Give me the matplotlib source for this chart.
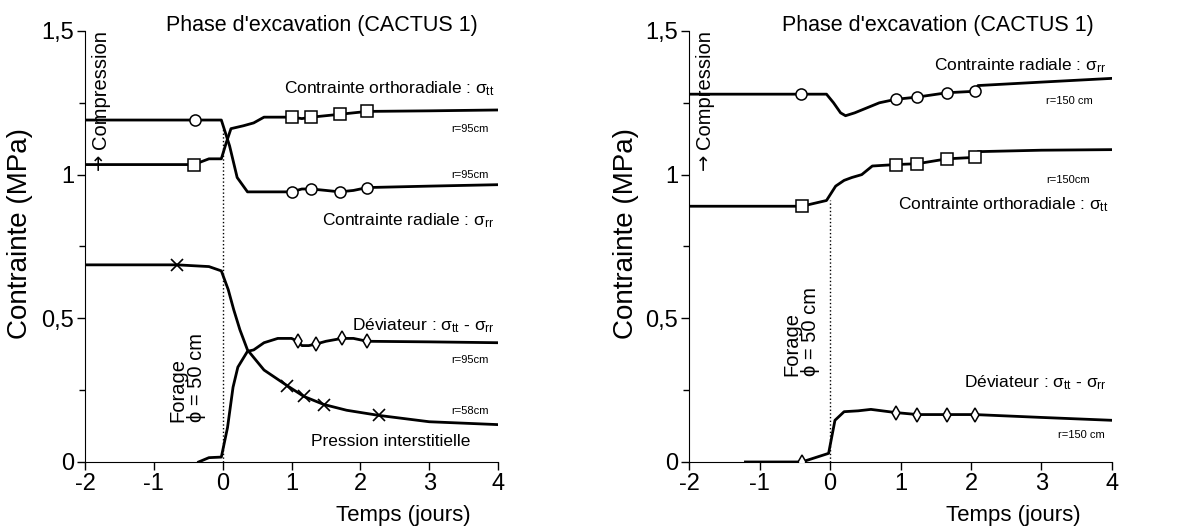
import matplotlib
matplotlib.use('Agg')
import matplotlib.pyplot as plt

plt.rcParams['font.family'] = ['Liberation Sans', 'DejaVu Sans']
plt.rcParams['mathtext.fontset'] = 'custom'
plt.rcParams['mathtext.rm'] = 'Liberation Sans'
plt.rcParams['mathtext.it'] = 'Liberation Sans'

# ---- excavation, r = 95 cm / 58 cm (left) ----
l_rad_x = [-2, -0.4, -0.02, 0.1, 0.21, 0.36, 0.6, 1.0, 1.15, 1.29, 1.5, 1.7, 1.9, 2.1, 3, 4]
l_rad_y = [1.19, 1.19, 1.19, 1.1, 0.99, 0.94, 0.94, 0.94, 0.95, 0.95, 0.945, 0.94, 0.945, 0.955, 0.96, 0.965]
l_rad_mx = [-0.4, 1.0, 1.29, 1.7, 2.1]
l_rad_my = [1.19, 0.94, 0.95, 0.94, 0.955]

l_ort_x = [-2, -0.42, -0.2, -0.02, 0.05, 0.12, 0.3, 0.45, 0.6, 1.0, 1.15, 1.29, 1.7, 2.1, 3, 4]
l_ort_y = [1.035, 1.035, 1.055, 1.055, 1.11, 1.16, 1.17, 1.18, 1.2, 1.2, 1.195, 1.2, 1.21, 1.22, 1.222, 1.225]
l_ort_mx = [-0.42, 1.0, 1.29, 1.7, 2.1]
l_ort_my = [1.035, 1.2, 1.2, 1.21, 1.22]

l_dev_x = [-0.35, -0.2, -0.02, 0.07, 0.15, 0.22, 0.36, 0.45, 0.6, 0.8, 1.0, 1.09, 1.15, 1.25,
           1.35, 1.5, 1.73, 1.9, 2.1, 3, 4]
l_dev_y = [0.0, 0.015, 0.017, 0.12, 0.26, 0.33, 0.385, 0.39, 0.415, 0.43, 0.43, 0.42, 0.405,
           0.405, 0.41, 0.42, 0.43, 0.43, 0.42, 0.418, 0.415]
l_dev_mx = [1.09, 1.35, 1.73, 2.1]
l_dev_my = [0.42, 0.41, 0.43, 0.42]

l_pre_x = [-2, -0.66, -0.2, -0.02, 0.08, 0.16, 0.25, 0.36, 0.6, 0.94, 1.18, 1.47, 1.8, 2.27, 3, 4]
l_pre_y = [0.686, 0.686, 0.68, 0.665, 0.6, 0.53, 0.46, 0.39, 0.32, 0.265, 0.228, 0.2, 0.18,
           0.162, 0.14, 0.13]
l_pre_mx = [-0.66, 0.94, 1.18, 1.47, 2.27]
l_pre_my = [0.686, 0.265, 0.228, 0.2, 0.162]

# ---- excavation, r = 150 cm (right) ----
r_rad_x = [-2, -0.41, -0.05, 0.05, 0.15, 0.22, 0.35, 0.5, 0.7, 0.93, 1.24, 1.66, 2.05, 2.1, 3, 4]
r_rad_y = [1.28, 1.28, 1.28, 1.25, 1.215, 1.205, 1.215, 1.23, 1.25, 1.262, 1.27, 1.285, 1.29,
           1.31, 1.322, 1.335]
r_rad_mx = [-0.41, 0.93, 1.24, 1.66, 2.05]
r_rad_my = [1.28, 1.262, 1.27, 1.285, 1.29]

r_ort_x = [-2, -0.4, -0.05, 0.08, 0.2, 0.31, 0.45, 0.6, 0.93, 1.24, 1.66, 2.05, 2.1, 3, 4]
r_ort_y = [0.89, 0.89, 0.91, 0.96, 0.98, 0.99, 1.0, 1.03, 1.035, 1.038, 1.055, 1.06, 1.08,
           1.085, 1.087]
r_ort_mx = [-0.4, 0.93, 1.24, 1.66, 2.05]
r_ort_my = [0.89, 1.035, 1.038, 1.055, 1.06]

r_dev_x = [-1.2, -0.4, -0.02, 0.07, 0.2, 0.4, 0.58, 0.93, 1.24, 1.66, 2.05, 3, 4]
r_dev_y = [0.0, 0.0, 0.03, 0.145, 0.175, 0.178, 0.183, 0.172, 0.165, 0.165, 0.165, 0.155, 0.145]
r_dev_mx = [-0.4, 0.93, 1.24, 1.66, 2.05]
r_dev_my = [0.0, 0.172, 0.165, 0.165, 0.165]

yticks = [0, 0.5, 1, 1.5]
ytick_labels = ['0', '0,5', '1', '1,5']
xticks = [-2, -1, 0, 1, 2, 3, 4]
xtick_labels = ['-2', '-1', '0', '1', '2', '3', '4']

title = "Phase d'excavation (CACTUS 1)"
sig_tt = r'$\sigma_{\mathrm{tt}}$'
sig_rr = r'$\sigma_{\mathrm{rr}}$'

fig = plt.figure(figsize=(11.88, 5.31), dpi=100)
axL = fig.add_axes([0.0716, 0.130, 0.3476, 0.8117])
axR = fig.add_axes([0.580, 0.130, 0.356, 0.8117])

line_kw = dict(color='black', lw=2.0)
mk_kw = dict(linestyle='none', mfc='white', mec='black', mew=1.1, zorder=4)


def curve(ax, x, y, mx, my, marker, ms):
    ax.plot(x, y, **line_kw)
    ax.plot(mx, my, marker=marker, ms=ms, **mk_kw)


curve(axL, l_rad_x, l_rad_y, l_rad_mx, l_rad_my, 'o', 8)
curve(axL, l_ort_x, l_ort_y, l_ort_mx, l_ort_my, 's', 8)
curve(axL, l_dev_x, l_dev_y, l_dev_mx, l_dev_my, 'd', 7)
axL.plot(l_pre_x, l_pre_y, **line_kw)
axL.plot(l_pre_mx, l_pre_my, linestyle='none', marker='x', ms=8, mec='black', mew=1.2, zorder=4)

curve(axR, r_rad_x, r_rad_y, r_rad_mx, r_rad_my, 'o', 8)
curve(axR, r_ort_x, r_ort_y, r_ort_mx, r_ort_my, 's', 8)
curve(axR, r_dev_x, r_dev_y, r_dev_mx, r_dev_my, 'd', 7)

# drilling instant
axL.plot([0, 0], [0, 1.16], color='black', lw=1.0, linestyle=':')
axR.plot([0, 0], [0, 0.91], color='black', lw=1.0, linestyle=':')

for ax in (axL, axR):
    ax.set_xlim(-2, 4)
    ax.set_ylim(0, 1.5)
    ax.spines['top'].set_visible(False)
    ax.spines['right'].set_visible(False)
    ax.set_xticks(xticks)
    ax.set_xticklabels(xtick_labels, fontsize=17)
    ax.set_yticks(yticks)
    ax.set_yticklabels(ytick_labels, fontsize=17)
    ax.set_yticks([0.25, 0.75, 1.25], minor=True)
    ax.tick_params(direction='out', length=6, width=1, pad=2)
    ax.tick_params(which='minor', direction='out', length=4, width=1)
    ax.set_ylabel('Contrainte (MPa)', fontsize=20)
    ax.set_xlabel('Temps (jours)', fontsize=16)
    # compressive stresses counted positive
    ax.text(-1.78, 1.09, 'Compression', rotation=90, fontsize=14.5,
            ha='center', va='bottom')
    ax.text(-1.79, 1.015, u'\u2192', rotation=90, fontsize=14, family='DejaVu Sans',
            ha='center', va='bottom')

axL.yaxis.set_label_coords(-0.125, 0.53)
axR.yaxis.set_label_coords(-0.118, 0.53)
axL.xaxis.set_label_coords(0.77, -0.1)
axR.xaxis.set_label_coords(0.766, -0.1)

axL.text(1.44, 1.52, title, fontsize=15.5, ha='center', va='center', clip_on=False)
axR.text(1.53, 1.52, title, fontsize=15.5, ha='center', va='center', clip_on=False)

txt = dict(fontsize=12.5, ha='right', va='center')
small = dict(fontsize=8, ha='right', va='center')

axL.text(3.95, 1.30, 'Contrainte orthoradiale : ' + sig_tt, **txt)
axL.text(3.86, 1.16, 'r=95cm', **small)
axL.text(3.86, 1.00, 'r=95cm', **small)
axL.text(3.95, 0.84, 'Contrainte radiale : ' + sig_rr, **txt)
axL.text(3.95, 0.475, u'D\u00e9viateur : ' + sig_tt + ' - ' + sig_rr, **txt)
axL.text(3.86, 0.355, 'r=95cm', **small)
axL.text(3.86, 0.178, 'r=58cm', **small)
axL.text(2.44, 0.07, 'Pression interstitielle', fontsize=12.5, ha='center', va='center')
axL.text(-0.52, 0.14, u'Forage\n\u03d5 = 50 cm', rotation=90, fontsize=14.5,
         ha='center', va='bottom', multialignment='left', linespacing=1.0)

axR.text(3.92, 1.38, 'Contrainte radiale : ' + sig_rr, **txt)
axR.text(3.73, 1.256, 'r=150 cm', **small)
axR.text(3.69, 0.98, 'r=150cm', **small)
axR.text(3.95, 0.895, 'Contrainte orthoradiale : ' + sig_tt, **txt)
axR.text(3.93, 0.275, u'D\u00e9viateur : ' + sig_tt + ' - ' + sig_rr, **txt)
axR.text(3.9, 0.094, 'r=150 cm', **small)
axR.text(-0.41, 0.30, u'Forage\n\u03d5 = 50 cm', rotation=90, fontsize=14.5,
         ha='center', va='bottom', multialignment='left', linespacing=1.0)

fig.savefig('out.png', dpi=100)
